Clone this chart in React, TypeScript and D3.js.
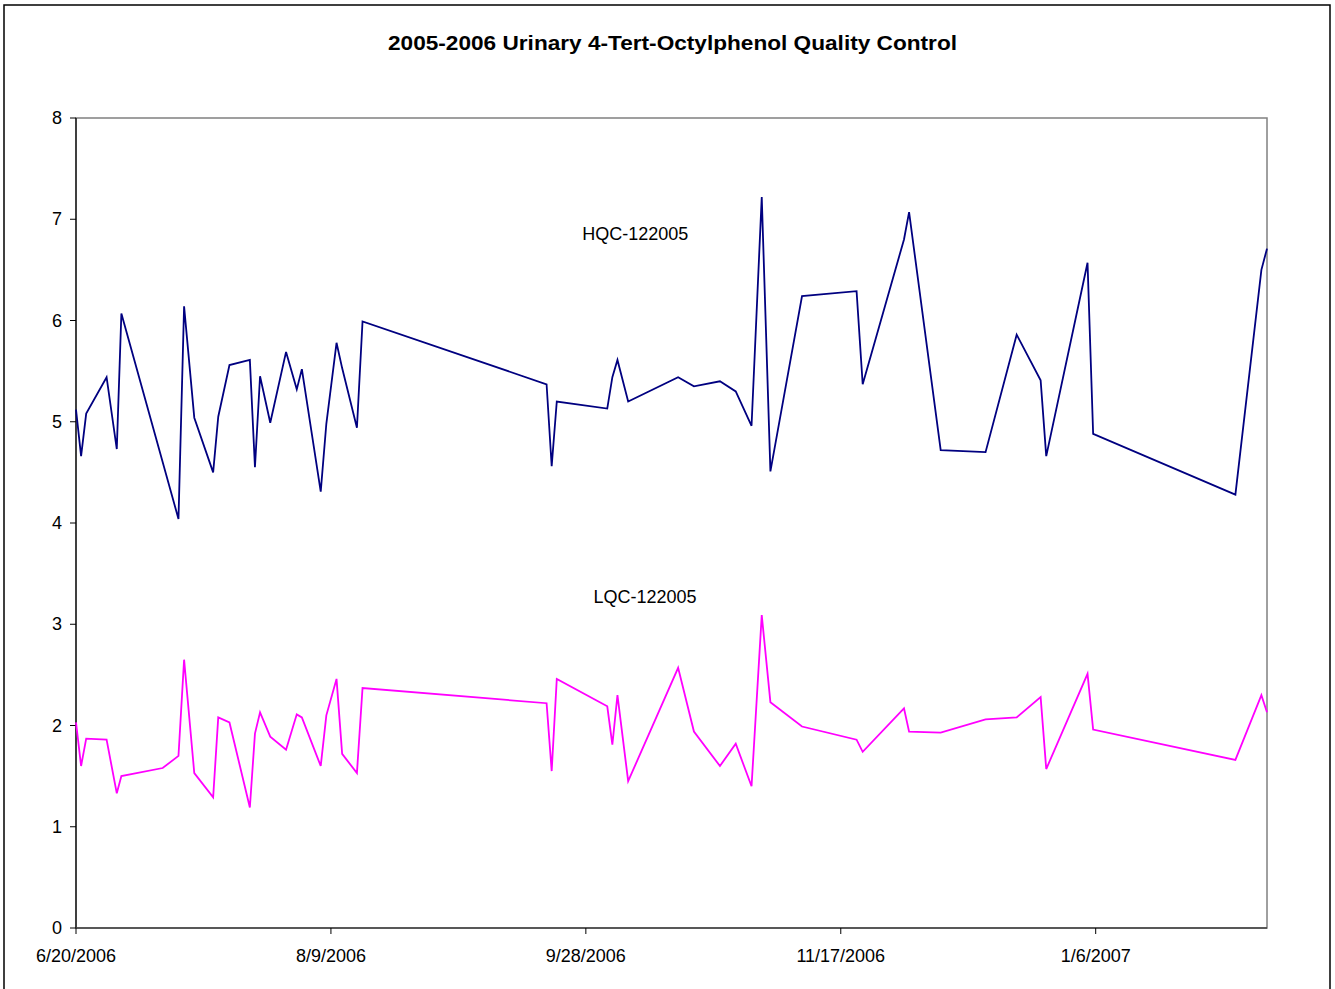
import React from "react";
import * as d3 from "d3";

// Days after 6/20/2006 for each QC run
const dayOffsets = [0, 1, 2, 6, 8, 8.9, 17, 20.1, 21.2, 23.2, 26.9, 27.9, 30.1, 34.1, 35.1, 36.1, 38.1, 41.2, 43.3, 44.3, 48, 49.1, 51.1, 52.2, 55.1, 56.2, 92.3, 93.3, 94.3, 104.2, 105.2, 106.2, 108.3, 118.1, 121.2, 126.3, 129.4, 132.5, 134.5, 136.2, 142.4, 153.1, 154.3, 162.4, 163.4, 169.6, 178.4, 184.5, 189.2, 190.3, 198.4, 199.5, 227.4, 232.5, 233.6];

const hqcValues: (number | null)[] = [5.12, 4.66, 5.08, 5.44, 4.73, 6.07, null, 4.04, 6.14, 5.04, 4.5, 5.05, 5.56, 5.61, 4.55, 5.45, 4.99, 5.69, 5.32, 5.52, 4.31, 4.98, 5.78, 5.53, 4.94, 5.99, 5.37, 4.56, 5.2, 5.13, 5.44, 5.61, 5.2, 5.44, 5.35, 5.4, 5.3, 4.96, 7.22, 4.51, 6.24, 6.29, 5.37, 6.8, 7.07, 4.72, 4.7, 5.86, 5.41, 4.66, 6.57, 4.88, 4.28, 6.5, 6.71];

const lqcValues: (number | null)[] = [2.03, 1.6, 1.87, 1.86, 1.33, 1.5, 1.58, 1.7, 2.65, 1.53, 1.29, 2.08, 2.03, 1.19, 1.92, 2.13, 1.89, 1.76, 2.11, 2.08, 1.6, 2.1, 2.46, 1.72, 1.53, 2.37, 2.22, 1.55, 2.46, 2.19, 1.81, 2.3, 1.45, 2.57, 1.94, 1.6, 1.82, 1.4, 3.09, 2.23, 1.99, 1.86, 1.74, 2.17, 1.94, 1.93, 2.06, 2.08, 2.28, 1.57, 2.51, 1.96, 1.66, 2.3, 2.13];

const xTickDays = [0, 50, 100, 150, 200];
const xTickLabels = ["6/20/2006", "8/9/2006", "9/28/2006", "11/17/2006", "1/6/2007"];
const yTicks = [0, 1, 2, 3, 4, 5, 6, 7, 8];

const title = "2005-2006 Urinary 4-Tert-Octylphenol Quality Control";
const seriesLabels = [
  { name: "HQC-122005", day: 109.7, value: 6.8 },
  { name: "LQC-122005", day: 111.6, value: 3.21 },
];

export default function App() {
  const W = 1335, H = 989;
  const left = 76, right = 1267, top = 118, bottom = 928;
  const x = d3.scaleLinear().domain([0, 233.6]).range([left, right]);
  const y = d3.scaleLinear().domain([0, 8]).range([bottom, top]);

  const mk = (vals: (number | null)[]) => {
    const pts = dayOffsets
      .map((d, i) => [d, vals[i]] as [number, number | null])
      .filter((p) => p[1] !== null) as [number, number][];
    return d3.line<[number, number]>().x((p) => x(p[0])).y((p) => y(p[1]))(pts) || "";
  };

  const font = "Arial, 'Liberation Sans', sans-serif";

  return (
    <svg width={W} height={H} style={{ position: "absolute", left: 0, top: 0, background: "#fff" }} fontFamily={font}>
      <rect x={4} y={5} width={1326} height={990} fill="#fff" stroke="#000" strokeWidth={1.5} />
      <text x={672.5} y={50} textAnchor="middle" fontSize={20} fontWeight="bold" textLength={569} lengthAdjust="spacingAndGlyphs">{title}</text>
      <rect x={left} y={top} width={right - left} height={bottom - top} fill="none" stroke="#808080" strokeWidth={1.5} />
      <line x1={left} x2={left} y1={top} y2={bottom} stroke="#000" strokeWidth={1.2} />
      <line x1={left} x2={right} y1={bottom} y2={bottom} stroke="#404040" strokeWidth={1.5} />
      {yTicks.map((t) => (
        <g key={t}>
          <line x1={left - 6} x2={left} y1={y(t)} y2={y(t)} stroke="#000" />
          <text x={62} y={y(t) + 6} textAnchor="end" fontSize={18}>{t}</text>
        </g>
      ))}
      {xTickDays.map((d, i) => (
        <g key={d}>
          <line x1={x(d)} x2={x(d)} y1={bottom} y2={bottom + 6} stroke="#000" />
          <text x={x(d)} y={962} textAnchor="middle" fontSize={18}>{xTickLabels[i]}</text>
        </g>
      ))}
      <path d={mk(hqcValues)} fill="none" stroke="#000080" strokeWidth={1.8} strokeLinejoin="miter" />
      <path d={mk(lqcValues)} fill="none" stroke="#FF00FF" strokeWidth={1.8} strokeLinejoin="miter" />
      {seriesLabels.map((s) => (
        <text key={s.name} x={x(s.day)} y={y(s.value)} textAnchor="middle" fontSize={18}>{s.name}</text>
      ))}
    </svg>
  );
}
